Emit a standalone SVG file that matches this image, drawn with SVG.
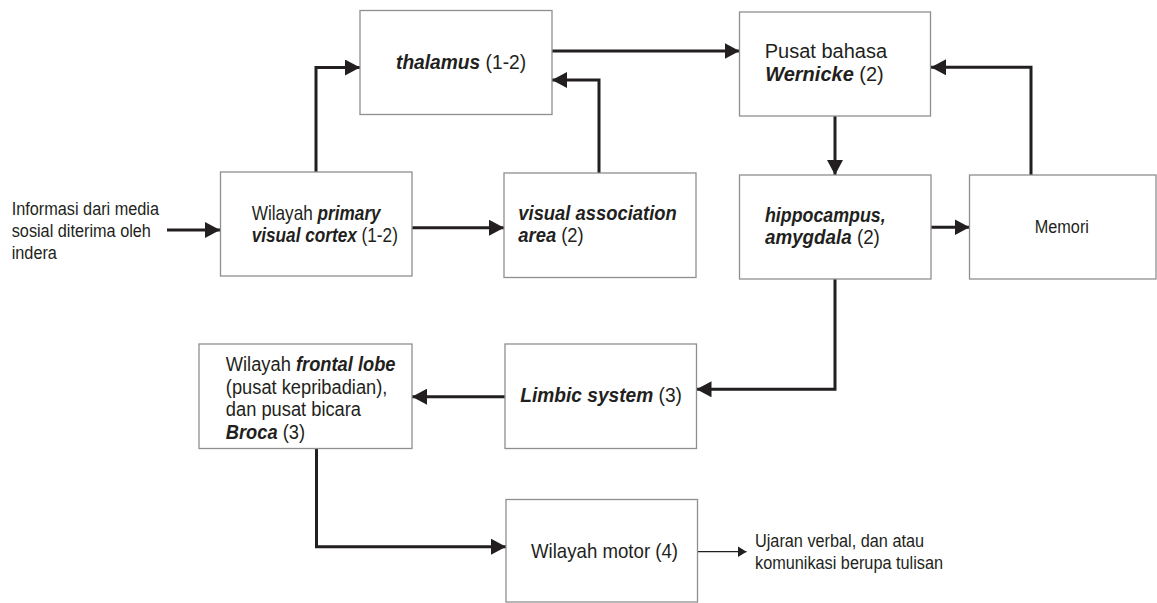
<svg xmlns="http://www.w3.org/2000/svg" width="1157" height="603" viewBox="0 0 1157 603">
<style>
.box{fill:#ffffff;stroke:#8f8f8f;stroke-width:1.3}
.t{font-family:"Liberation Sans",Arial,sans-serif;font-size:20px;fill:#231f20}
.s{font-family:"Liberation Sans",Arial,sans-serif;font-size:18.5px;fill:#231f20}
.bi{font-weight:bold;font-style:italic}
.c{fill:none;stroke:#231f20;stroke-width:3;marker-end:url(#ah)}
.thin{fill:none;stroke:#231f20;stroke-width:1.2;marker-end:url(#ahs)}
</style>
<defs>
<marker id="ah" markerUnits="userSpaceOnUse" viewBox="0 0 15 16" refX="15" refY="8" markerWidth="15" markerHeight="16" orient="auto">
<path d="M0,0 L15,8 L0,16 z" fill="#231f20"/>
</marker>
<marker id="ahs" markerUnits="userSpaceOnUse" viewBox="0 0 9 11" refX="9" refY="5.5" markerWidth="9" markerHeight="11" orient="auto">
<path d="M0,0 L9,5.5 L0,11 z" fill="#231f20"/>
</marker>
</defs>
<rect width="1157" height="603" fill="#ffffff"/>

<g id="connectors">
<path class="c" d="M167,230 H220"/>
<path class="c" d="M316,172 V67.5 H360"/>
<path class="c" d="M412,227.7 H504"/>
<path class="c" d="M599,173 V80 H552"/>
<path class="c" d="M552,51 H739.5"/>
<path class="c" d="M835,116 V175"/>
<path class="c" d="M931,227.3 H969.5"/>
<path class="c" d="M1031,175 V67.3 H931"/>
<path class="c" d="M835,279 V389.3 H696.5"/>
<path class="c" d="M505,396.7 H412"/>
<path class="c" d="M316.5,448.5 V546.7 H506"/>
<path class="thin" d="M697.5,551.7 H746.5"/>
</g>

<g id="input">
<text class="s" transform="translate(11.7,214.8) scale(0.88,1)">Informasi dari media</text>
<text class="s" transform="translate(11.7,237) scale(0.88,1)">sosial diterima oleh</text>
<text class="s" transform="translate(11.7,259) scale(0.88,1)">indera</text>
</g>

<g id="thalamus">
<rect class="box" x="360" y="10.5" width="192" height="104"/>
<text class="t" transform="translate(396,68.5) scale(0.96,1)"><tspan class="bi">thalamus</tspan> (1-2)</text>
</g>

<g id="wernicke">
<rect class="box" x="739.5" y="12" width="191" height="104"/>
<text class="t" x="764.7" y="58">Pusat bahasa</text>
<text class="t" x="765.2" y="80.5"><tspan class="bi">Wernicke</tspan> (2)</text>
</g>

<g id="cortex">
<rect class="box" x="220.5" y="172" width="191.5" height="104"/>
<text class="t" transform="translate(251.7,219.5) scale(0.86,1)">Wilayah <tspan class="bi">primary</tspan></text>
<text class="t" transform="translate(251.7,242) scale(0.86,1)"><tspan class="bi">visual cortex</tspan> (1-2)</text>
</g>

<g id="visual-association">
<rect class="box" x="504" y="173" width="192" height="104.5"/>
<text class="t" transform="translate(518.3,220.3) scale(0.92,1)"><tspan class="bi">visual association</tspan></text>
<text class="t" transform="translate(518.3,242) scale(0.92,1)"><tspan class="bi">area</tspan> (2)</text>
</g>

<g id="hippocampus">
<rect class="box" x="739.5" y="175" width="191.5" height="104"/>
<text class="t" transform="translate(765,222) scale(0.89,1)"><tspan class="bi">hippocampus,</tspan></text>
<text class="t" transform="translate(765,244.3) scale(0.94,1)"><tspan class="bi">amygdala</tspan> (2)</text>
</g>

<g id="memori">
<rect class="box" x="969.5" y="175" width="186.5" height="104"/>
<text class="s" transform="translate(1034.7,232.5) scale(0.88,1)">Memori</text>
</g>

<g id="frontal-lobe">
<rect class="box" x="199" y="344" width="213" height="104.5"/>
<text class="t" transform="translate(225.8,371) scale(0.915,1)">Wilayah <tspan class="bi">frontal lobe</tspan></text>
<text class="t" transform="translate(225.8,393.8) scale(0.915,1)">(pusat kepribadian),</text>
<text class="t" transform="translate(225.8,416.2) scale(0.915,1)">dan pusat bicara</text>
<text class="t" transform="translate(225.8,438.6) scale(0.915,1)"><tspan class="bi">Broca</tspan> (3)</text>
</g>

<g id="limbic">
<rect class="box" x="505" y="344" width="191.5" height="104.5"/>
<text class="t" transform="translate(520.2,402) scale(0.958,1)"><tspan class="bi">Limbic system</tspan> (3)</text>
</g>

<g id="motor">
<rect class="box" x="506" y="499.5" width="191.5" height="102.5"/>
<text class="t" transform="translate(531,558) scale(0.932,1)">Wilayah motor (4)</text>
</g>

<g id="output">
<text class="s" transform="translate(755,546.8) scale(0.88,1)">Ujaran verbal, dan atau</text>
<text class="s" transform="translate(755,568.8) scale(0.88,1)">komunikasi berupa tulisan</text>
</g>
</svg>
